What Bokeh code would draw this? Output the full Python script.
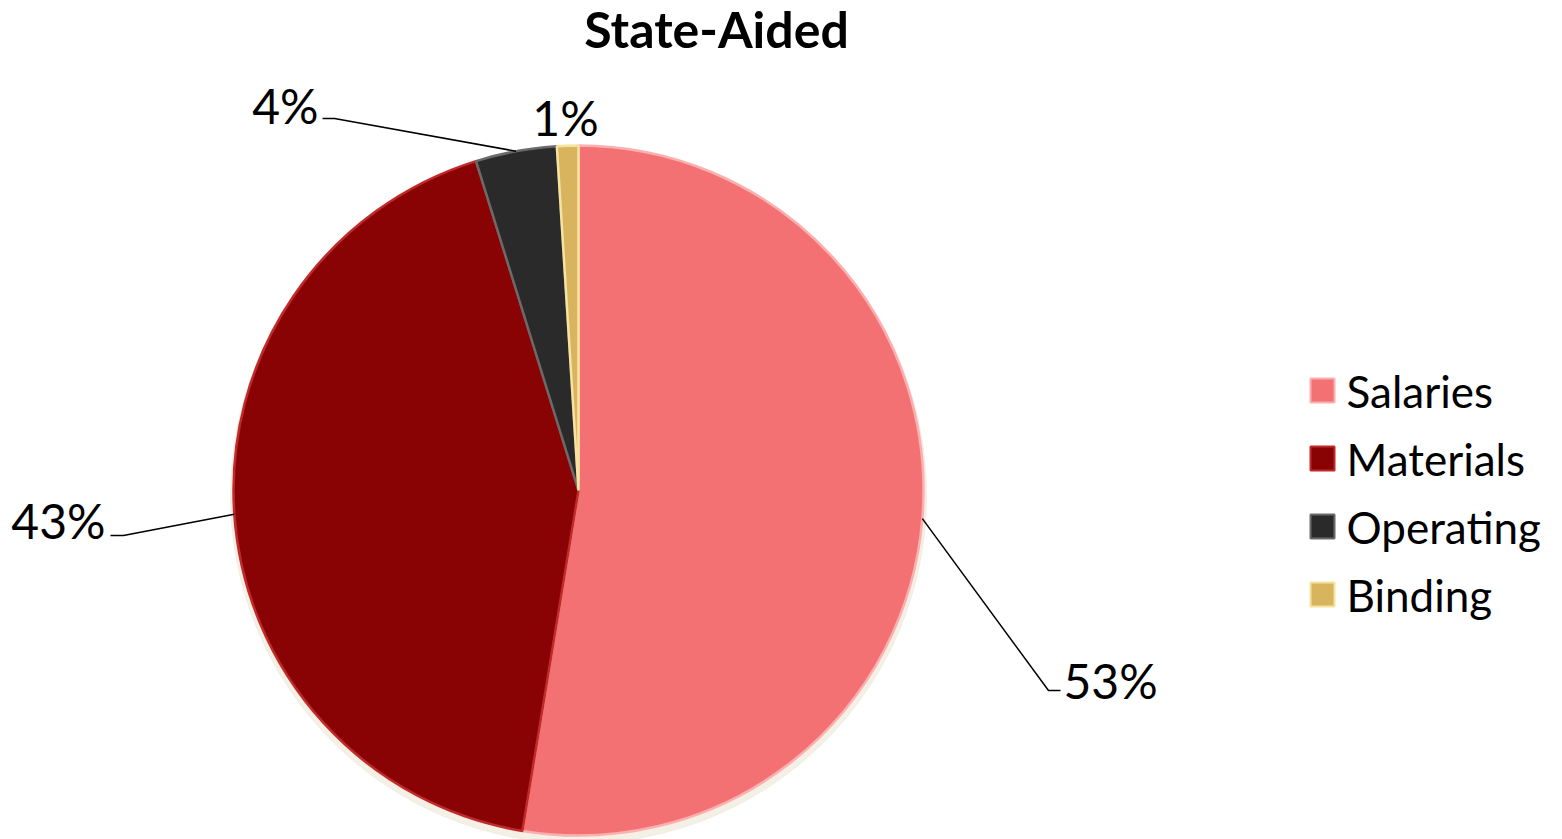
import math
from bokeh.plotting import figure
from bokeh.models import Range1d, ColumnDataSource
from bokeh.core.properties import value
from bokeh.embed import file_html
from bokeh.resources import INLINE

# ---- data ----
categories = ["Salaries", "Materials", "Operating", "Binding"]
shares = [52.6, 42.6, 3.8, 1.0]
colors = ["#F37173", "#8A0304", "#2A2A2A", "#D8B45E"]
edge_colors = ["#FBB0B0", "#C02A2A", "#6A6A6A", "#F6E3A0"]
title_text = "State-Aided"

W, H = 1562, 839
FONT = "Lato"

p = figure(width=W, height=H, output_backend="svg", toolbar_location=None,
           x_range=Range1d(0, W), y_range=Range1d(0, H), min_border=0)
p.axis.visible = False
p.grid.visible = False
p.outline_line_color = None
p.background_fill_color = "white"

cx, cy, R = 578, 349, 345

total = sum(shares)
starts, ends, mids = [], [], []
a = math.pi / 2
for v in shares:
    span = 2 * math.pi * v / total
    starts.append(a)
    ends.append(a - span)
    mids.append(a - span / 2)
    a -= span

# soft shadow
p.wedge(x=cx, y=cy - 5, radius=R + 3, start_angle=0, end_angle=2 * math.pi,
        color="#EDE6D6", alpha=0.6)

src = ColumnDataSource(dict(start=starts, end=ends, color=colors, edge=edge_colors, cat=categories))
p.wedge(x=cx, y=cy, radius=R, start_angle="start", end_angle="end", direction="clock",
        fill_color="color", line_color="edge", line_width=2.5, source=src)

# labels
labels = [f"{round(v)}%" for v in shares]
label_x = [1063, 105, 318, 565]
label_y = [159, 319, 734, 722]
label_align = ["left", "right", "right", "center"]
elbows = [[(1060, 149), (1048, 149)], [(123, 304), (110, 304)], [(334, 721), (322, 721)], None]

for i in range(len(shares)):
    p.text(x=[label_x[i]], y=[label_y[i]], text=[labels[i]], text_font=value(FONT),
           text_font_size="48px", text_align=label_align[i], text_baseline="middle",
           text_color="black")
    if elbows[i] is not None:
        ex = cx + R * math.cos(mids[i])
        ey = cy + R * math.sin(mids[i])
        (x1, y1), (x2, y2) = elbows[i]
        if label_align[i] == "left":
            xs = [ex, x2, x1]
            ys = [ey, y2, y1]
        else:
            xs = [ex, x1, x2]
            ys = [ey, y1, y2]
        p.line(x=xs, y=ys, line_color="black", line_width=1.5)

# title
p.text(x=[716], y=[811], text=[title_text], text_font=value(FONT), text_font_size="50px",
       text_font_style="bold", text_align="center", text_baseline="middle", text_color="black")

# legend
leg_y = [449, 381, 313, 245]
p.rect(x=[1322] * 4, y=leg_y, width=24, height=24, fill_color=colors,
       line_color=edge_colors, line_width=2)
p.text(x=[1346] * 4, y=leg_y, text=categories, text_font=value(FONT), text_font_size="44px",
       text_align="left", text_baseline="middle", text_color="black")

open("out.html", "w").write(file_html(p, INLINE))
